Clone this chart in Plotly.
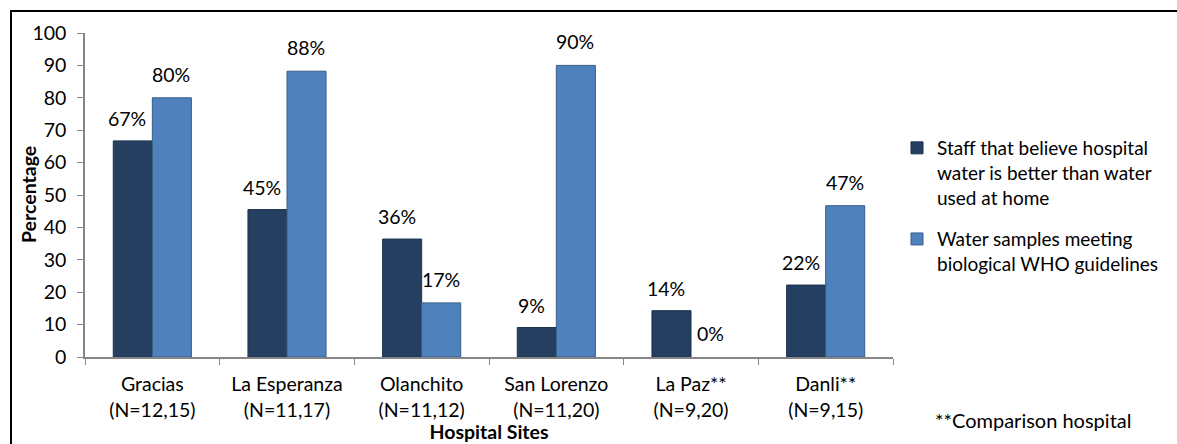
import plotly.graph_objects as go

sites = ["Gracias<br>(N=12,15)", "La Esperanza<br>(N=11,17)", "Olanchito<br>(N=11,12)",
         "San Lorenzo<br>(N=11,20)", "La Paz**<br>(N=9,20)", "Danli**<br>(N=9,15)"]
staff = [66.7, 45.5, 36.4, 9.1, 14.3, 22.2]
water = [80.0, 88.2, 16.7, 90.0, 0.0, 46.7]
staff_labels = ["67%", "45%", "36%", "9%", "14%", "22%"]
water_labels = ["80%", "88%", "17%", "90%", "0%", "47%"]

name_staff = "Staff that believe hospital<br>water is better than water<br>used at home"
name_water = "Water samples meeting<br>biological WHO guidelines"

FONT = "Lato"
FS = 19.5
W, H = 1177, 444
L, R, T, B = 85, 893, 33, 357
pw, ph = R - L, B - T

def px(x):
    return (x - L) / pw

def py(y):
    return 1 - (y - T) / ph

fig = go.Figure()
fig.add_trace(go.Bar(x=sites, y=staff, name=name_staff, legendgroup="a",
                     marker=dict(color="#243f60",
                                 line=dict(color="#1d3350", width=[1 if v > 0 else 0 for v in staff]))))
fig.add_trace(go.Bar(x=sites, y=water, name=name_water, legendgroup="b",
                     marker=dict(color="#4f81bd",
                                 line=dict(color="#385d8a", width=[1 if v > 0 else 0 for v in water]))))

annots = []
for s, v, t in zip(sites, staff, staff_labels):
    annots.append(dict(x=s, y=v, text=t, xref="x", yref="y", showarrow=False,
                       xshift=-25, yshift=9, yanchor="bottom",
                       font=dict(family=FONT, size=FS, color="#000")))
for s, v, t in zip(sites, water, water_labels):
    annots.append(dict(x=s, y=v, text=t, xref="x", yref="y", showarrow=False,
                       xshift=19, yshift=10, yanchor="bottom",
                       font=dict(family=FONT, size=FS, color="#000")))
annots.append(dict(text="**Comparison hospital", xref="paper", yref="paper",
                   x=px(933), y=py(420), xanchor="left", yanchor="middle", showarrow=False,
                   font=dict(family=FONT, size=20, color="#000")))
annots.append(dict(text="<b>Percentage</b>", xref="paper", yref="paper", textangle=-90,
                   x=px(28), y=py(195), xanchor="center", yanchor="middle", showarrow=False,
                   font=dict(family=FONT, size=FS, color="#000")))

fig.update_layout(
    width=W, height=H,
    margin=dict(l=L, r=W - R, t=T, b=H - B, autoexpand=False),
    paper_bgcolor="white", plot_bgcolor="white",
    barmode="group", bargap=0.42, bargroupgap=0,
    font=dict(family=FONT, size=FS, color="#000"),
    annotations=annots,
    showlegend=True,
    legend=dict(x=px(897), y=py(129), xanchor="left", yanchor="top",
                font=dict(family=FONT, size=19, color="#000"),
                traceorder="grouped", tracegroupgap=14, valign="top",
                bgcolor="rgba(0,0,0,0)"),
    xaxis=dict(showline=True, linecolor="#868686", linewidth=1.5,
               ticks="outside", tickson="boundaries", ticklen=6, tickcolor="#868686",
               ticklabelstandoff=9,
               tickfont=dict(family=FONT, size=FS, color="#000"),
               title=dict(text="<b>Hospital Sites</b>", standoff=0,
                          font=dict(family=FONT, size=FS, color="#000")),
               showgrid=False),
    yaxis=dict(range=[0, 100], dtick=10, showline=True, linecolor="#868686", linewidth=1.5,
               ticks="outside", ticklen=6, tickcolor="#868686",
               ticklabelstandoff=7,
               tickfont=dict(family=FONT, size=FS, color="#000"),
               showgrid=False, zeroline=False),
    shapes=[dict(type="rect", xref="paper", yref="paper",
                 x0=px(11), x1=px(1190), y0=py(460), y1=py(11),
                 line=dict(color="#000", width=2), fillcolor="rgba(0,0,0,0)")],
)

fig.write_html("out.html")
